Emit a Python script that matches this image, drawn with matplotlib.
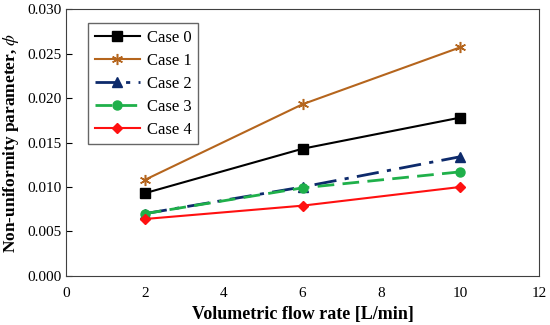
import numpy as np
import matplotlib.pyplot as plt
import matplotlib

plt.rcParams['font.family'] = ['Liberation Serif', 'DejaVu Serif']
plt.rcParams['mathtext.fontset'] = 'stix'

flow = [2, 6, 10]
case0 = [0.0093, 0.0143, 0.0178]
case1 = [0.0108, 0.0193, 0.0257]
case2 = [0.0070, 0.0100, 0.0134]
case3 = [0.0070, 0.0099, 0.0117]
case4 = [0.0064, 0.0079, 0.0100]
labels = ['Case 0', 'Case 1', 'Case 2', 'Case 3', 'Case 4']

fig = plt.figure(figsize=(5.5, 3.25), dpi=100)
ax = fig.add_axes([0.12, 0.151, 0.86, 0.821])

ax.plot(flow, case0, c='black', marker='s', ms=6.5, lw=1.5, label=labels[0])
ax.plot(flow, case1, c='#b5651d', marker=(6, 2, 0), ms=8, mew=1.1, lw=1.5, label=labels[1])
ax.plot(flow, case2, c='#0d2a6b', marker='^', ms=6.5, lw=2, ls=(0, (8, 3, 1.5, 3)), label=labels[2])
ax.plot(flow, case3, c='#1fb04a', marker='o', ms=6.5, lw=2, ls=(0, (6, 3)), label=labels[3])
ax.plot(flow, case4, c='#ff1010', marker='D', ms=5, lw=1.5, label=labels[4])

ax.set_xlim(0, 12)
ax.set_ylim(0, 0.030)
ax.set_xticks(range(0, 13, 2))
ax.set_yticks(np.arange(0, 0.0301, 0.005))
ax.yaxis.set_major_formatter(matplotlib.ticker.FormatStrFormatter('%.3f'))
ax.tick_params(axis='y', direction='in', length=4, labelsize=11)
ax.tick_params(axis='x', length=0, labelsize=11, pad=8)
for s in ax.spines.values():
    s.set_color('#404040')

ax.set_xlabel('Volumetric flow rate [L/min]', fontsize=13, fontweight='bold')
ax.set_ylabel('Non-uniformity parameter, $\\phi$', fontsize=12.5, fontweight='bold')

leg = ax.legend(loc='upper left', bbox_to_anchor=(0.047, 0.948), borderaxespad=0,
                fontsize=12, fancybox=False, edgecolor='#404040', handlelength=2.7,
                labelspacing=0.42, handletextpad=0.4, borderpad=0.4)
leg.get_frame().set_linewidth(1.0)

plt.savefig('out.png')
